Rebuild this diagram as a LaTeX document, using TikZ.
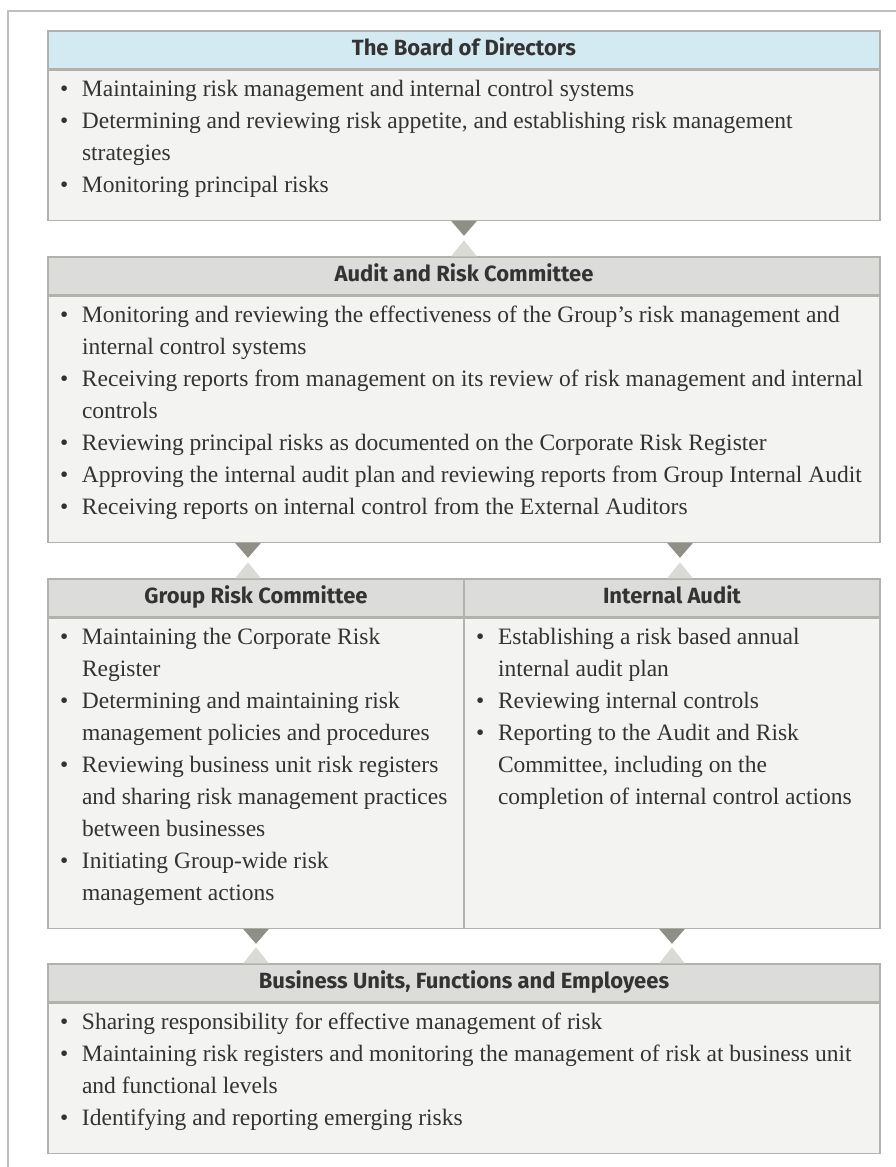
\documentclass[tikz,border=0pt]{standalone}
\usepackage{fontspec}
\setmainfont{Liberation Serif}
\newfontfamily\headfont{Fira Sans}
\usetikzlibrary{positioning}

\definecolor{headblue}{HTML}{D4EAF2}
\definecolor{headgrey}{HTML}{DCDCDA}
\definecolor{bodygrey}{HTML}{F3F3F2}
\definecolor{edgegrey}{HTML}{B2B2AC}
\definecolor{framegrey}{HTML}{BEBEBE}
\definecolor{tridark}{HTML}{8F8F88}
\definecolor{trilight}{HTML}{DADAD7}
\definecolor{inkgrey}{HTML}{333333}

% one bullet point, hanging indent
\newcommand\riskitem[1]{\par\hangindent=22pt\hangafter=1\noindent\makebox[22pt][l]{\textbullet}\rule{0pt}{20pt}#1}
% body of a box: width, height, items
\newcommand\bodytext[3]{\parbox[c][#2][t]{#1}{\fontsize{23.5}{32}\selectfont\raggedright\setlength\parskip{0pt}\vspace*{6pt}#3}}

\begin{document}
\begin{tikzpicture}[x=1pt,y=-1pt,
	head/.style={draw=edgegrey, fill=headgrey, text=inkgrey, line width=1.2pt,
		font=\headfont\bfseries\fontsize{22}{26}\selectfont,
		minimum height=38pt, inner sep=0pt, text height=15pt, text depth=4pt},
	bodybox/.style={draw=edgegrey, fill=bodygrey, text=inkgrey, line width=1.2pt,
		inner xsep=12pt, inner ysep=0pt, anchor=north},
	downtri/.style={fill=tridark},
	uptri/.style={fill=trilight}]
	\useasboundingbox (0,0) rectangle (896,1167);
	\draw [framegrey, line width=1.2pt] (8,1167) -- (8,11) -- (896,11);

	% board
	\node [head, fill=headblue, minimum width=832pt] (boardhead) at (464,50) {The Board of Directors};
	\node [bodybox] (boardbody) at (boardhead.south) {\bodytext{808pt}{150pt}{%
		\riskitem{Maintaining risk management and internal control systems}
		\riskitem{Determining and reviewing risk appetite, and establishing risk management\newline strategies}
		\riskitem{Monitoring principal risks}}};

	% audit and risk committee
	\node [head, minimum width=832pt] (audithead) at (464,276) {Audit and Risk Committee};
	\node [bodybox] (auditbody) at (audithead.south) {\bodytext{808pt}{246pt}{%
		\riskitem{Monitoring and reviewing the effectiveness of the Group’s risk management and\newline internal control systems}
		\riskitem{Receiving reports from management on its review of risk management and internal\newline controls}
		\riskitem{Reviewing principal risks as documented on the Corporate Risk Register}
		\riskitem{Approving the internal audit plan and reviewing reports from Group Internal Audit}
		\riskitem{Receiving reports on internal control from the External Auditors}}};

	% group risk committee and internal audit
	\node [head, minimum width=416pt] (grouphead) at (256,598) {Group Risk Committee};
	\node [bodybox] (groupbody) at (grouphead.south) {\bodytext{392pt}{310pt}{%
		\riskitem{Maintaining the Corporate Risk\newline Register}
		\riskitem{Determining and maintaining risk\newline management policies and procedures}
		\riskitem{Reviewing business unit risk registers\newline and sharing risk management practices\newline between businesses}
		\riskitem{Initiating Group-wide risk\newline management actions}}};
	\node [head, minimum width=416pt] (internalhead) at (672,598) {Internal Audit};
	\node [bodybox] (internalbody) at (internalhead.south) {\bodytext{392pt}{310pt}{%
		\riskitem{Establishing a risk based annual\newline internal audit plan}
		\riskitem{Reviewing internal controls}
		\riskitem{Reporting to the Audit and Risk\newline Committee, including on the\newline completion of internal control actions}}};

	% business units
	\node [head, minimum width=832pt] (unitshead) at (464,983) {Business Units, Functions and Employees};
	\node [bodybox] (unitsbody) at (unitshead.south) {\bodytext{808pt}{150pt}{%
		\riskitem{Sharing responsibility for effective management of risk}
		\riskitem{Maintaining risk registers and monitoring the management of risk at business unit\newline and functional levels}
		\riskitem{Identifying and reporting emerging risks}}};

	% triangles between the boxes
	\fill [downtri] ([xshift=-13pt]boardbody.south) -- ([xshift=13pt]boardbody.south) -- ([yshift=-15pt]boardbody.south) -- cycle;
	\fill [uptri] ([xshift=-13pt]audithead.north) -- ([xshift=13pt]audithead.north) -- ([yshift=16pt]audithead.north) -- cycle;
	\foreach \s in {-216,216} {
		\fill [downtri] ([xshift=\s pt-13pt]auditbody.south) -- ([xshift=\s pt+13pt]auditbody.south) -- ([xshift=\s pt, yshift=-15pt]auditbody.south) -- cycle;
	}
	\fill [uptri] ([xshift=-13pt]grouphead.north) ++(-8,0) -- ++(26,0) -- ++(-13,-16) -- cycle;
	\fill [uptri] ([xshift=-13pt]internalhead.north) ++(8,0) -- ++(26,0) -- ++(-13,-16) -- cycle;
	\fill [downtri] ([xshift=-13pt]groupbody.south) -- ([xshift=13pt]groupbody.south) -- ([yshift=-15pt]groupbody.south) -- cycle;
	\fill [downtri] ([xshift=-13pt]internalbody.south) -- ([xshift=13pt]internalbody.south) -- ([yshift=-15pt]internalbody.south) -- cycle;
	\foreach \s in {-208,208} {
		\fill [uptri] ([xshift=\s pt-13pt]unitshead.north) -- ([xshift=\s pt+13pt]unitshead.north) -- ([xshift=\s pt, yshift=16pt]unitshead.north) -- cycle;
	}
\end{tikzpicture}
\end{document}
